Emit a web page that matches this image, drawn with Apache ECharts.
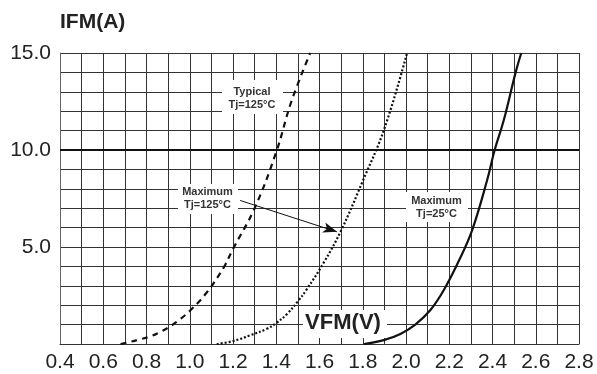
<!DOCTYPE html>
<html>
<head>
<meta charset="utf-8">
<script src="https://cdn.jsdelivr.net/npm/echarts@6/dist/echarts.min.js"></script>
<style>html,body{margin:0;padding:0;background:#fff;}#c{width:597px;height:374px;}</style>
</head>
<body>
<div id="c"></div>
<script>
// Forward voltage (V) vs forward current (A)
const typical125 = [[0.68,0],[0.72,0.1],[0.77,0.24],[0.82,0.4],[0.86,0.6],[0.9,0.84],[0.94,1.15],[0.98,1.5],[1.01,1.82],[1.05,2.27],[1.08,2.68],[1.11,3.13],[1.16,4.0],[1.2,4.9],[1.3,7.0],[1.4,9.9],[1.47,12.5],[1.557,15.0]];
const maximum125 = [[1.125,0],[1.2,0.15],[1.28,0.45],[1.356,0.78],[1.4,1.08],[1.45,1.55],[1.5,2.2],[1.54,2.8],[1.62,4.2],[1.7,5.85],[1.8,8.4],[1.9,11.1],[2.005,15.0]];
const maximum25  = [[1.805,0],[1.897,0.2],[1.974,0.52],[2.043,1.0],[2.113,1.75],[2.175,2.78],[2.245,4.3],[2.306,5.87],[2.375,8.44],[2.41,10.0],[2.452,11.53],[2.507,14.0],[2.533,15.0]];
const xLabels = ['0.4','0.6','0.8','1.0','1.2','1.4','1.6','1.8','2.0','2.2','2.4','2.6','2.8'];
const yLabels = ['5.0','10.0','15.0'];
const arrowFrom = [1.233, 7.4];
const arrowTo = [1.681, 5.78];

const chart = echarts.init(document.getElementById('c'));
const font = 'Liberation Sans, Arial, sans-serif';
chart.setOption({
  animation: false,
  grid: {left: 60, right: 18, top: 53, bottom: 30},
  xAxis: {
    type: 'value', min: 0.4, max: 2.8, interval: 0.1,
    axisLine: {show: true, lineStyle: {color: '#333', width: 1}},
    axisTick: {show: false},
    splitLine: {show: true, lineStyle: {color: '#333', width: 1}},
    axisLabel: {
      color: '#222', fontSize: 21, fontFamily: font, margin: 8,
      showMinLabel: true, showMaxLabel: true,
      formatter: function (v) {
        const s = v.toFixed(1);
        return xLabels.indexOf(s) >= 0 ? s : '';
      }
    }
  },
  yAxis: {
    type: 'value', min: 0, max: 15, interval: 1,
    axisLine: {show: true, lineStyle: {color: '#666', width: 1}},
    axisTick: {show: false},
    splitLine: {show: true, lineStyle: {color: '#333', width: 1}},
    axisLabel: {
      color: '#222', fontSize: 21, fontFamily: font, margin: 9,
      formatter: function (v) {
        const s = v.toFixed(1);
        return yLabels.indexOf(s) >= 0 ? s : '';
      }
    }
  },
  series: [
    {type: 'line', data: typical125, smooth: 0.4, showSymbol: false,
     lineStyle: {color: '#111', width: 2.2, type: [6, 5]},
     markLine: {silent: true, symbol: ['none','none'], label: {show: false},
       lineStyle: {color: '#111', width: 1.8, type: 'solid'}, data: [{yAxis: 10}]}},
    {type: 'line', data: maximum125, smooth: 0.4, showSymbol: false,
     lineStyle: {color: '#111', width: 2.2, type: [2, 2]}},
    {type: 'line', data: maximum25, smooth: 0.4, showSymbol: false,
     lineStyle: {color: '#111', width: 2.2, type: 'solid'},
     markLine: {silent: true, symbol: ['none','arrow'], symbolSize: [8, 14], label: {show: false},
       lineStyle: {color: '#111', width: 1, type: 'solid'},
       data: [[{coord: arrowFrom}, {coord: arrowTo}]]}}
  ],
  graphic: [
    {type: 'text', left: 60, top: 12, style: {text: 'IFM(A)', font: 'bold 21px ' + font, fill: '#222'}},
    {type: 'rect', shape: {x: 222, y: 80, width: 61, height: 34}, style: {fill: '#fff'}, z: 100},
    {type: 'text', x: 252, y: 98, z: 101, style: {text: 'Typical\nTj=125°C', font: 'bold 11px ' + font, fill: '#333', align: 'center', verticalAlign: 'middle', lineHeight: 13}},
    {type: 'rect', shape: {x: 178, y: 184, width: 60, height: 30}, style: {fill: '#fff'}, z: 100},
    {type: 'text', x: 207.5, y: 198.5, z: 101, style: {text: 'Maximum\nTj=125°C', font: 'bold 11px ' + font, fill: '#333', align: 'center', verticalAlign: 'middle', lineHeight: 13}},
    {type: 'rect', shape: {x: 406, y: 192, width: 62, height: 30}, style: {fill: '#fff'}, z: 100},
    {type: 'text', x: 436.5, y: 207.5, z: 101, style: {text: 'Maximum\nTj=25°C', font: 'bold 11px ' + font, fill: '#333', align: 'center', verticalAlign: 'middle', lineHeight: 13}},
    {type: 'rect', shape: {x: 303, y: 310, width: 84, height: 28}, style: {fill: '#fff'}, z: 100},
    {type: 'text', x: 343, y: 323, z: 101, style: {text: 'VFM(V)', font: 'bold 22px ' + font, fill: '#222', align: 'center', verticalAlign: 'middle'}}
  ]
});
</script>
</body>
</html>
